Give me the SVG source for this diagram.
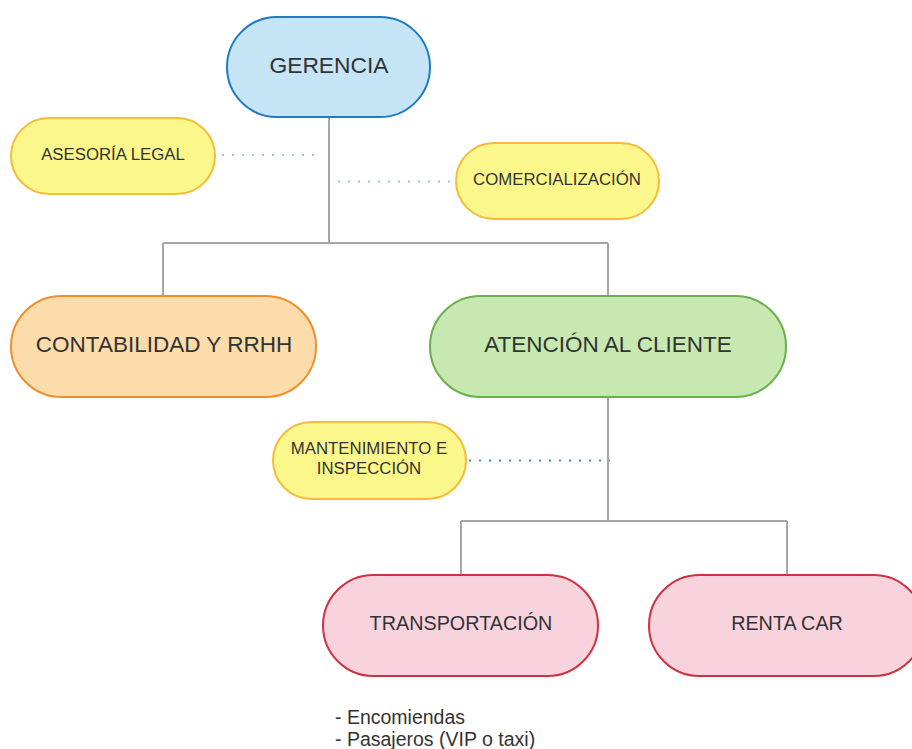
<svg xmlns="http://www.w3.org/2000/svg" width="912" height="749" viewBox="0 0 912 749">
<style>
.t{font-family:"Liberation Sans",Arial,sans-serif;fill:#333333;text-anchor:middle}
.conn{stroke:#a6a6a6;stroke-width:2;fill:none}
.dot{stroke:#8ec5ea;stroke-width:2;stroke-dasharray:2 8;fill:none}
.dot2{stroke:#3b8fd0;stroke-width:2;stroke-dasharray:2 8;fill:none}
.blue{fill:#c5e4f6;stroke:#1f7bc1;stroke-width:2}
.yel{fill:#fbf78b;stroke:#f6bb3a;stroke-width:2}
.org{fill:#fddcab;stroke:#ef8f2c;stroke-width:2}
.grn{fill:#c7e8b0;stroke:#6ab04c;stroke-width:2}
.red{fill:#f8d2dd;stroke:#d1303f;stroke-width:2}
</style>
<rect width="912" height="749" fill="#ffffff"/>
<g id="connectors">
<path class="conn" d="M329 118 V243 M163 243 H608 M163 243 V296 M608 243 V296"/>
<path class="conn" d="M608 397 V521 M461 521 H787 M461 521 V575 M787 521 V575"/>
<path class="dot" d="M222 155 H322"/>
<path class="dot" d="M338 181.5 H455"/>
<path class="dot2" d="M469 460.5 H610"/>
</g>
<g id="gerencia"><rect class="blue" x="227" y="17" width="203" height="100" rx="50"/><text class="t" x="329" y="73" font-size="22.8">GERENCIA</text></g>
<g id="asesoria"><rect class="yel" x="11" y="118" width="204" height="76" rx="38"/><text class="t" x="113" y="160" font-size="16.8">ASESORÍA LEGAL</text></g>
<g id="comercializacion"><rect class="yel" x="456" y="143" width="203" height="76" rx="38"/><text class="t" x="557" y="185" font-size="16.8">COMERCIALIZACIÓN</text></g>
<g id="contabilidad"><rect class="org" x="11" y="296" width="305" height="101" rx="50.5"/><text class="t" x="164" y="352" font-size="22.5">CONTABILIDAD Y RRHH</text></g>
<g id="atencion"><rect class="grn" x="430" y="296" width="356" height="101" rx="50.5"/><text class="t" x="608" y="352" font-size="22.5">ATENCIÓN AL CLIENTE</text></g>
<g id="mantenimiento"><rect class="yel" x="273" y="422" width="193" height="77" rx="38.5"/><text class="t" x="369" y="454" font-size="16.8">MANTENIMIENTO E</text><text class="t" x="369" y="474" font-size="16.8">INSPECCIÓN</text></g>
<g id="transportacion"><rect class="red" x="323" y="575" width="275" height="101" rx="50.5"/><text class="t" x="461" y="630" font-size="19.8">TRANSPORTACIÓN</text></g>
<g id="rentacar"><rect class="red" x="649" y="575" width="275" height="101" rx="50.5"/><text class="t" x="787" y="630" font-size="19.8">RENTA CAR</text></g>
<g id="notes"><text font-family="Liberation Sans,Arial,sans-serif" fill="#333333" font-size="19.5" x="335" y="724">- Encomiendas</text><text font-family="Liberation Sans,Arial,sans-serif" fill="#333333" font-size="19.5" x="335" y="746">- Pasajeros (VIP o taxi)</text></g>
</svg>
